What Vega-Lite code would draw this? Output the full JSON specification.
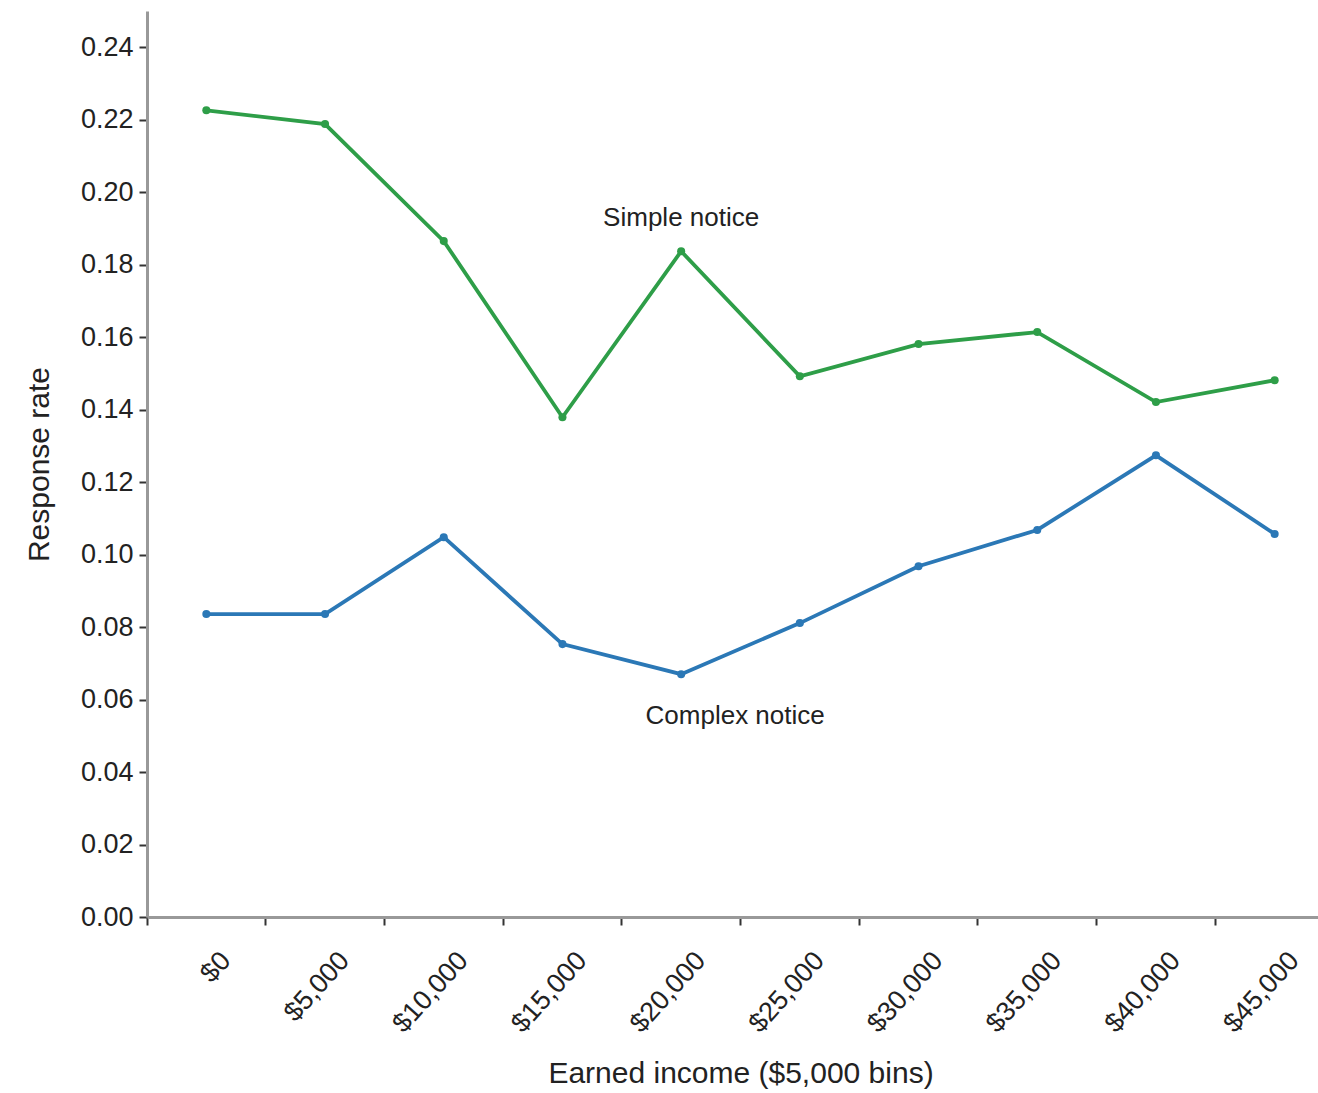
{
  "$schema": "https://vega.github.io/schema/vega-lite/v6.json",
  "autosize": {"type": "none"},
  "width": 1171,
  "height": 906,
  "padding": {"left": 147, "top": 11, "right": 0, "bottom": 176},
  "background": "white",
  "config": {
    "view": {"stroke": null},
    "font": "Liberation Sans",
    "axis": {
      "grid": false,
      "domainColor": "#999999",
      "domainWidth": 3,
      "tickColor": "#333333",
      "tickWidth": 2,
      "tickSize": 8,
      "labelFont": "Liberation Sans",
      "labelFontSize": 26,
      "labelColor": "#222222",
      "titleFont": "Liberation Sans",
      "titleFontSize": 30,
      "titleFontWeight": "normal",
      "titleColor": "#222222"
    }
  },
  "datasets": {
    "rates": [
      {"income": "$0", "notice": "Simple notice", "rate": 0.2226},
      {"income": "$5,000", "notice": "Simple notice", "rate": 0.2188},
      {"income": "$10,000", "notice": "Simple notice", "rate": 0.1865},
      {"income": "$15,000", "notice": "Simple notice", "rate": 0.1379},
      {"income": "$20,000", "notice": "Simple notice", "rate": 0.1837},
      {"income": "$25,000", "notice": "Simple notice", "rate": 0.1492},
      {"income": "$30,000", "notice": "Simple notice", "rate": 0.1581},
      {"income": "$35,000", "notice": "Simple notice", "rate": 0.1614},
      {"income": "$40,000", "notice": "Simple notice", "rate": 0.1421},
      {"income": "$45,000", "notice": "Simple notice", "rate": 0.1481},
      {"income": "$0", "notice": "Complex notice", "rate": 0.0836},
      {"income": "$5,000", "notice": "Complex notice", "rate": 0.0836},
      {"income": "$10,000", "notice": "Complex notice", "rate": 0.1048},
      {"income": "$15,000", "notice": "Complex notice", "rate": 0.0753},
      {"income": "$20,000", "notice": "Complex notice", "rate": 0.0670},
      {"income": "$25,000", "notice": "Complex notice", "rate": 0.0811},
      {"income": "$30,000", "notice": "Complex notice", "rate": 0.0968},
      {"income": "$35,000", "notice": "Complex notice", "rate": 0.1068},
      {"income": "$40,000", "notice": "Complex notice", "rate": 0.1274},
      {"income": "$45,000", "notice": "Complex notice", "rate": 0.1057}
    ],
    "labels": [
      {"income": "$20,000", "notice": "Simple notice", "rate": 0.1928},
      {"income": "$20,000", "notice": "Complex notice", "rate": 0.0554}
    ]
  },
  "encoding": {
    "x": {
      "field": "income",
      "type": "ordinal",
      "sort": ["$0", "$5,000", "$10,000", "$15,000", "$20,000", "$25,000", "$30,000", "$35,000", "$40,000", "$45,000"],
      "scale": {"type": "band", "range": [0, 1187], "paddingInner": 0, "paddingOuter": 0},
      "axis": {
        "title": "Earned income ($5,000 bins)",
        "labelAngle": -48,
        "labelAlign": "right",
        "labelBaseline": "top",
        "labelPadding": 22,
        "labelOffset": 10,
        "labelFontSize": 27,
        "titlePadding": 22,
        "bandPosition": 0,
        "ticks": true
      }
    },
    "y": {
      "field": "rate",
      "type": "quantitative",
      "scale": {"domain": [0, 0.25], "nice": false},
      "axis": {
        "title": "Response rate",
        "values": [0, 0.02, 0.04, 0.06, 0.08, 0.1, 0.12, 0.14, 0.16, 0.18, 0.2, 0.22, 0.24],
        "format": ".2f",
        "labelPadding": 6,
        "labelFontSize": 27,
        "titlePadding": 26
      }
    }
  },
  "layer": [
    {
      "data": {"name": "rates"},
      "mark": {"type": "line", "strokeWidth": 3.8},
      "encoding": {
        "color": {
          "field": "notice",
          "type": "nominal",
          "scale": {"domain": ["Simple notice", "Complex notice"], "range": ["#2e9e48", "#2b78b6"]},
          "legend": null
        }
      }
    },
    {
      "data": {"name": "rates"},
      "mark": {"type": "circle", "size": 65, "opacity": 1},
      "encoding": {
        "color": {
          "field": "notice",
          "type": "nominal",
          "scale": {"domain": ["Simple notice", "Complex notice"], "range": ["#2e9e48", "#2b78b6"]},
          "legend": null
        }
      }
    },
    {
      "data": {"name": "labels"},
      "transform": [{"filter": "datum.notice == 'Simple notice'"}],
      "mark": {"type": "text", "fontSize": 26, "color": "#222222", "align": "center", "baseline": "middle", "font": "Liberation Sans"},
      "encoding": {"text": {"field": "notice"}}
    },
    {
      "data": {"name": "labels"},
      "transform": [{"filter": "datum.notice == 'Complex notice'"}],
      "mark": {"type": "text", "fontSize": 26, "color": "#222222", "align": "center", "baseline": "middle", "dx": 54, "font": "Liberation Sans"},
      "encoding": {"text": {"field": "notice"}}
    }
  ]
}
